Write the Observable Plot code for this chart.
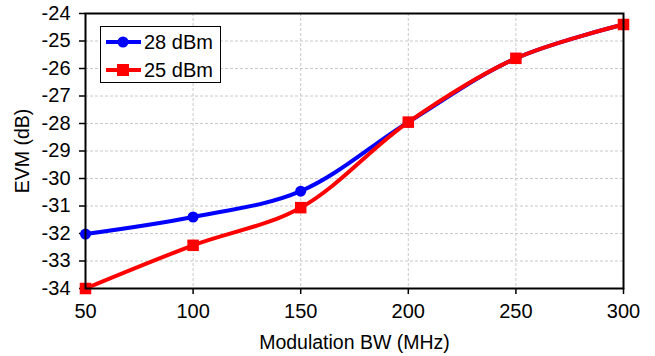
<!DOCTYPE html>
<html><head><meta charset="utf-8">
<script src="https://cdn.jsdelivr.net/npm/d3@7"></script>
<script src="https://cdn.jsdelivr.net/npm/@observablehq/plot@0.6"></script>
<style>
body{margin:0;background:#fff;}
#wrap{position:relative;width:655px;height:356px;font-family:"Liberation Sans",Arial,sans-serif;}
#legend{position:absolute;left:100px;top:26px;width:121px;height:57px;border:1.5px solid #000;background:#fff;box-sizing:border-box;padding-top:1px;}
.row{display:flex;align-items:center;height:28px;font-size:20px;}
</style></head><body>
<div id="wrap"><div id="chart"></div><div id="legend"></div></div>
<script>
const bw = [50, 100, 150, 200, 250, 300];
const evm28 = [-32.02, -31.4, -30.46, -27.95, -25.63, -24.4];
const evm25 = [-34.0, -32.43, -31.06, -27.95, -25.63, -24.4];
const seriesNames = ["28 dBm", "25 dBm"];
const seriesColors = ["#0000ff", "#ff0000"];
const xTicks = [50, 100, 150, 200, 250, 300];
const yTicks = [-34, -33, -32, -31, -30, -29, -28, -27, -26, -25, -24];

const d28 = bw.map((x, i) => ({x, y: evm28[i]}));
const d25 = bw.map((x, i) => ({x, y: evm25[i]}));

const chart = Plot.plot({
  width: 655, height: 356,
  marginLeft: 85, marginTop: 13, marginRight: 32, marginBottom: 68,
  style: {fontFamily: "Liberation Sans, Arial, sans-serif", fontSize: "20px", color: "#000", background: "#fff"},
  x: {domain: [50, 300]},
  y: {domain: [-34, -24]},
  marks: [
    Plot.gridX(xTicks, {stroke: "#c8c8c8", strokeOpacity: 1, strokeDasharray: "3,2"}),
    Plot.gridY(yTicks, {stroke: "#c8c8c8", strokeOpacity: 1, strokeDasharray: "3,2"}),
    Plot.axisX(xTicks, {tickSize: 6, tickPadding: 9, strokeWidth: 1.5, label: null, fontSize: 20}),
    Plot.axisY(yTicks, {tickSize: 6, tickPadding: 9, strokeWidth: 1.5, label: null, tickFormat: d => String(d).replace("−","-"), fontSize: 20}),
    Plot.text(["Modulation BW (MHz)"], {frameAnchor: "bottom", lineAnchor: "middle", dy: 54, fontSize: 19.5}),
    Plot.text(["EVM (dB)"], {frameAnchor: "left", textAnchor: "middle", lineAnchor: "middle", dx: -63, rotate: -90, fontSize: 19.5}),
    Plot.line(d28, {x: "x", y: "y", stroke: seriesColors[0], strokeWidth: 4, curve: "catmull-rom"}),
    Plot.line(d25, {x: "x", y: "y", stroke: seriesColors[1], strokeWidth: 4, curve: "catmull-rom"}),
    Plot.dot(d28, {x: "x", y: "y", fill: seriesColors[0], r: 5.5, symbol: "circle"}),
    Plot.dot(d25, {x: "x", y: "y", fill: seriesColors[1], r: 6.5, symbol: "square"}),
    Plot.frame({stroke: "#000", strokeWidth: 2})
  ]
});
document.getElementById("chart").appendChild(chart);

const leg = document.getElementById("legend");
seriesNames.forEach((n, i) => {
  const row = document.createElement("div");
  row.className = "row";
  const marker = i === 0
    ? `<circle cx="17" cy="9" r="5.5" fill="${seriesColors[i]}"/>`
    : `<rect x="11" y="3" width="12" height="12" fill="${seriesColors[i]}"/>`;
  row.innerHTML = `<svg width="36" height="18" style="margin-left:5px"><line x1="0" x2="35" y1="9" y2="9" stroke="${seriesColors[i]}" stroke-width="4"/>${marker}</svg><span style="margin-left:2px">${n}</span>`;
  leg.appendChild(row);
});
</script>
</body></html>
